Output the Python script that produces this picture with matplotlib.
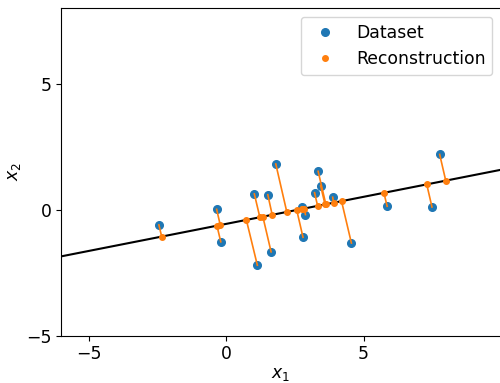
import matplotlib
matplotlib.use("Agg")
import matplotlib.pyplot as plt
import numpy as np

# Dataset points (blue)
data_x = [-2.44, -0.34, -0.19, 1.03, 1.14, 1.52, 1.64, 1.81, 2.75, 2.89,
          2.80, 3.35, 3.44, 3.22, 3.88, 4.56, 5.86, 7.49, 7.77]
data_y = [-0.61, 0.01, -1.28, 0.62, -2.21, 0.59, -1.68, 1.81, 0.10, -0.20,
          -1.10, 1.52, 0.95, 0.67, 0.49, -1.33, 0.13, 0.10, 2.19]

# Reconstruction points (orange), paired with dataset points
rec_x = [-2.34, -0.21, -0.33, 1.23, 0.74, 1.68, 1.34, 2.21, 2.77, 2.84,
         2.57, 3.63, 3.60, 3.33, 3.91, 4.20, 5.74, 7.30, 7.99]
rec_y = [-1.07, -0.61, -0.64, -0.30, -0.41, -0.21, -0.28, -0.09, 0.03, 0.04,
         -0.01, 0.21, 0.21, 0.15, 0.27, 0.34, 0.67, 1.00, 1.15]

# Principal axis line
line_x = [-6, 10]
line_y = [-1.86, 1.58]

fs = 12.4
fig = plt.figure(figsize=(5.0, 3.83), dpi=100)
ax = fig.add_axes([0.122, 0.124, 0.880, 0.855])

ax.plot(line_x, line_y, color="black", lw=1.5, zorder=1)
ax.plot(data_x, data_y, "o", color="C0", ms=5.5, label="Dataset", zorder=2)
for bx, by, rx, ry in zip(data_x, data_y, rec_x, rec_y):
    ax.plot([bx, rx], [by, ry], color="C1", lw=1.2, zorder=3)
ax.plot(rec_x, rec_y, "o", color="C1", ms=4, label="Reconstruction", zorder=4)

ax.set_xlim(-6, 10)
ax.set_ylim(-5, 8)
ax.set_xticks([-5, 0, 5])
ax.set_yticks([-5, 0, 5])
ax.tick_params(labelsize=fs)
ax.set_xlabel("$x_1$", fontsize=fs, labelpad=1)
ax.set_ylabel("$x_2$", fontsize=fs, labelpad=2)
ax.legend(loc="upper right", fontsize=fs)

fig.savefig("out.png", dpi=100)
